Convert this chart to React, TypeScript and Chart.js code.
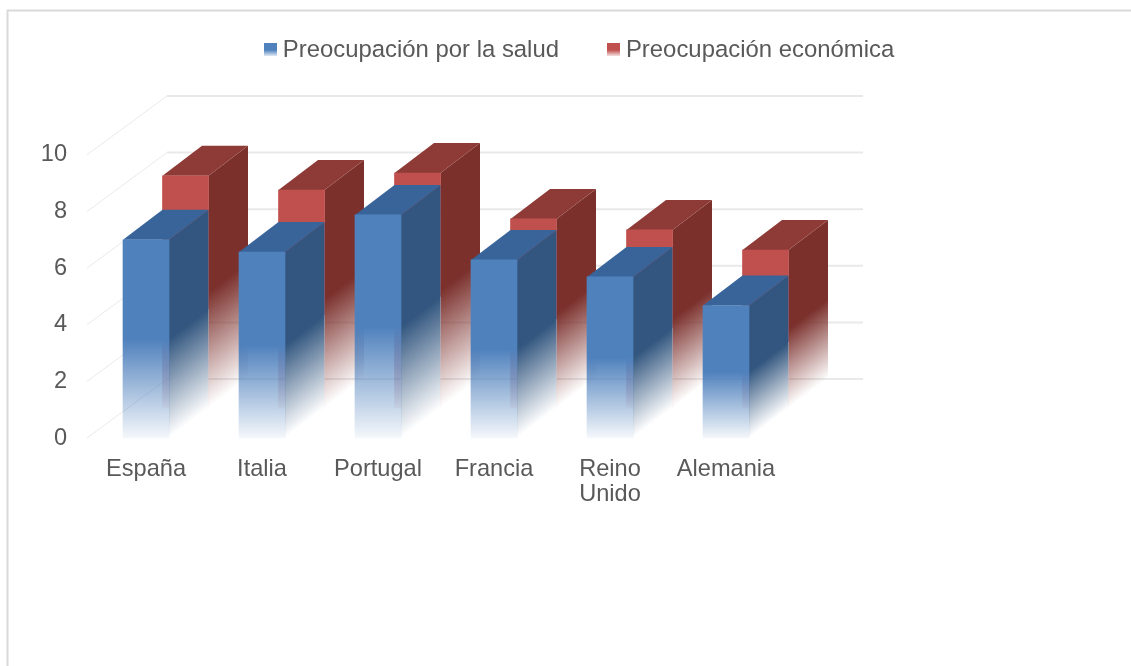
import React, { useEffect, useRef } from "react";
import { Chart, registerables } from "chart.js";

Chart.register(...registerables);

const categories = ["España", "Italia", "Portugal", "Francia", ["Reino", "Unido"], "Alemania"];
const saludName = "Preocupación por la salud";
const economicaName = "Preocupación económica";
const saludValues = [7.0, 6.57, 7.88, 6.29, 5.69, 4.68];
const economicaValues = [8.2, 7.7, 8.3, 6.68, 6.29, 5.58];

const FONT = "'Liberation Sans', Arial, sans-serif";
const TEXT = "#595959";
const GRID = "#e9e9e9";
const BLUE = { front: "79,129,189", top: "56,100,154", side: "50,86,127" };
const RED = { front: "192,80,77", top: "142,59,55", side: "123,48,44" };
const DEPTH_X = 39.5;
const DEPTH_Y = -30;
const WALL_X = 79;
const WALL_Y = -59;

function fade(ctx: CanvasRenderingContext2D, top: number, base: number, rgb: string, end: number) {
  const g = ctx.createLinearGradient(0, top, 0, base);
  g.addColorStop(0, `rgba(${rgb},1)`);
  g.addColorStop(0.5, `rgba(${rgb},1)`);
  g.addColorStop(1, `rgba(${rgb},${end})`);
  return g;
}

function swatch(rgb: string) {
  const c = document.createElement("canvas");
  c.width = 13;
  c.height = 13;
  const x = c.getContext("2d")!;
  const g = x.createLinearGradient(0, 0, 0, 13);
  g.addColorStop(0, `rgba(${rgb},1)`);
  g.addColorStop(0.5, `rgba(${rgb},1)`);
  g.addColorStop(1, `rgba(${rgb},0.1)`);
  x.fillStyle = g;
  x.fillRect(0, 0, 13, 13);
  return c;
}

const frameAndGrid = {
  id: "frameAndGrid",
  beforeDraw(chart: any) {
    const { ctx } = chart;
    ctx.save();
    ctx.strokeStyle = "#d9d9d9";
    ctx.lineWidth = 2;
    ctx.beginPath();
    ctx.moveTo(7.5, 666);
    ctx.lineTo(7.5, 10.5);
    ctx.lineTo(1131, 10.5);
    ctx.stroke();
    ctx.restore();
  },
  beforeDatasetsDraw(chart: any) {
    const { ctx, chartArea, scales } = chart;
    ctx.save();
    ctx.strokeStyle = GRID;
    for (const t of scales.y.ticks) {
      const y = scales.y.getPixelForValue(t.value);
      ctx.lineWidth = 1;
      ctx.beginPath();
      ctx.moveTo(chartArea.left - 1, y);
      ctx.lineTo(chartArea.left + WALL_X, y + WALL_Y);
      ctx.stroke();
      ctx.lineWidth = 2;
      ctx.beginPath();
      ctx.moveTo(chartArea.left + WALL_X, y + WALL_Y);
      ctx.lineTo(chartArea.right + WALL_X, y + WALL_Y);
      ctx.stroke();
    }
    ctx.restore();
  },
  afterLayout(chart: any) {
    const legend = chart.legend;
    const pad = chart.options.plugins.legend.labels.padding;
    legend.top = 50 - pad - 12;
    legend.left = 0;
    legend.right = 1164;
  },
};

const columns3d = {
  id: "columns3d",
  beforeDatasetDraw(chart: any, args: any) {
    const { ctx } = chart;
    const pal = args.index === 0 ? BLUE : RED;
    ctx.save();
    if (args.index === 1) ctx.translate(DEPTH_X, DEPTH_Y);
    for (const el of args.meta.data) {
      const right = el.x + el.width / 2;
      const left = el.x - el.width / 2;
      const k = DEPTH_Y / DEPTH_X;
      ctx.save();
      ctx.transform(1, k, 0, 1, 0, -k * right);
      if (args.index === 0) {
        const mid = (el.y + el.base) / 2;
        ctx.fillStyle = "#fff";
        ctx.fillRect(right, mid, DEPTH_X, el.base - mid);
      }
      ctx.fillStyle = fade(ctx, el.y, el.base, pal.side, 0);
      ctx.fillRect(right, el.y, DEPTH_X, el.base - el.y);
      ctx.restore();
      ctx.fillStyle = `rgb(${pal.top})`;
      ctx.beginPath();
      ctx.moveTo(left, el.y);
      ctx.lineTo(right, el.y);
      ctx.lineTo(right + DEPTH_X, el.y + DEPTH_Y);
      ctx.lineTo(left + DEPTH_X, el.y + DEPTH_Y);
      ctx.closePath();
      ctx.fill();
    }
  },
  afterDatasetDraw(chart: any) {
    chart.ctx.restore();
  },
};

function frontFill(rgb: string) {
  return (c: any) => {
    const y = c.chart.scales.y;
    const v = c.raw;
    if (typeof v !== "number") return `rgb(${rgb})`;
    return fade(c.chart.ctx, y.getPixelForValue(v), y.getPixelForValue(0), rgb, 0.06);
  };
}

export default function App() {
  const ref = useRef<HTMLCanvasElement>(null);
  useEffect(() => {
    document.body.style.margin = "0";
    document.body.style.background = "#fff";
    const chart = new Chart(ref.current!, {
      type: "bar",
      data: {
        labels: categories as any,
        datasets: [
          { label: saludName, data: saludValues, backgroundColor: frontFill(BLUE.front), clip: false as any },
          { label: economicaName, data: economicaValues, backgroundColor: frontFill(RED.front), clip: false as any },
        ],
      },
      plugins: [frameAndGrid, columns3d],
      options: {
        responsive: false,
        animation: false,
        grouped: false,
        barThickness: 46,
        layout: { padding: { top: 67, right: 347, left: 0, bottom: 0 } },
        plugins: {
          tooltip: { enabled: false },
          legend: {
            position: "top",
            labels: {
              color: TEXT,
              font: { family: FONT, size: 23.9 },
              padding: 54,
              usePointStyle: true,
              pointStyleWidth: 1,
              generateLabels: () => [
                { text: saludName, pointStyle: swatch(BLUE.front), fontColor: TEXT, datasetIndex: 0 },
                { text: economicaName, pointStyle: swatch(RED.front), fontColor: TEXT, datasetIndex: 1 },
              ],
            },
          },
        },
        scales: {
          x: {
            grid: { display: false, drawTicks: false },
            border: { display: false },
            afterFit: (s: any) => { s.height = 228; },
            ticks: {
              color: TEXT,
              font: { family: FONT, size: 23.6, lineHeight: 1.06 },
              padding: 19,
              maxRotation: 0,
              autoSkip: false,
            },
          },
          y: {
            min: 0,
            max: 10,
            grid: { display: false, drawTicks: false },
            border: { display: false },
            afterFit: (s: any) => { s.width = 88; },
            ticks: {
              stepSize: 2,
              color: TEXT,
              font: { family: FONT, size: 23.6 },
              padding: 21,
            },
          },
        },
      } as any,
    });
    return () => chart.destroy();
  }, []);
  return <canvas ref={ref} width={1131} height={666} style={{ display: "block" }} />;
}
